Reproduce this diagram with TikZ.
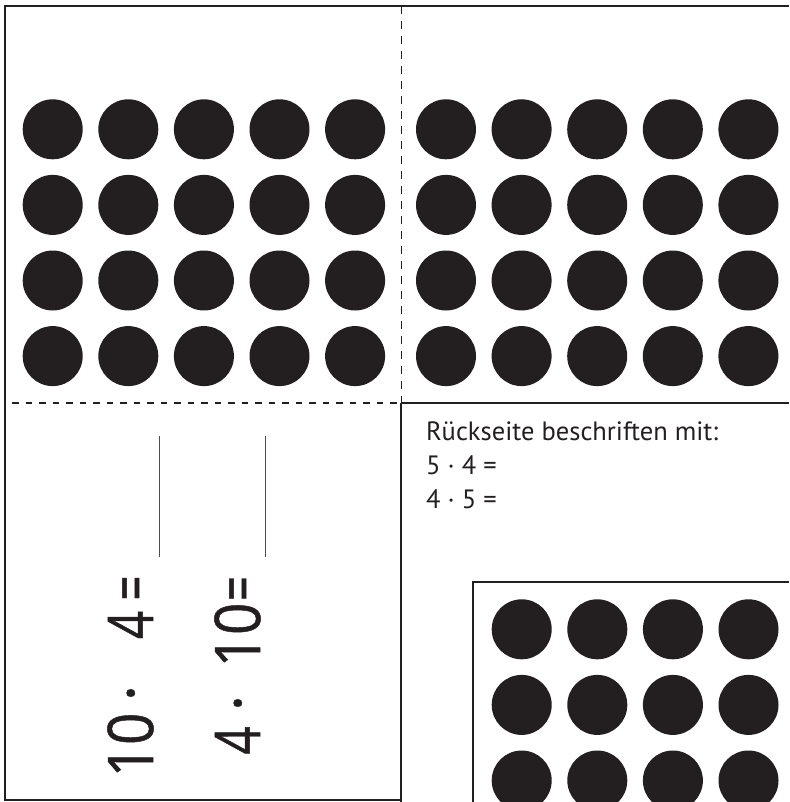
\documentclass[tikz,border=0pt]{standalone}
\usepackage{fontspec}
\setmainfont{PT Sans}
\newfontfamily\rotf[FakeBold=0.8]{Open Sans}
\definecolor{ink}{HTML}{231F20}
\begin{document}
\begin{tikzpicture}[x=1pt,y=-1pt,
  frame/.style={draw=ink,line width=2pt},
  cutline/.style={draw=ink,line width=1.8pt,dash pattern=on 6.5pt off 7pt},
  foldline/.style={draw=ink,line width=1pt,dash pattern=on 8pt off 7pt},
  writeline/.style={draw=ink!80,line width=0.9pt},
  dot/.style={fill=ink},
  note/.style={anchor=base west,inner sep=0pt,font=\fontsize{26.5}{32}\selectfont,text=ink},
  rot/.style={anchor=base,inner sep=0pt,rotate=90,font=\rotf\fontsize{63}{70}\selectfont,text=ink}]
\useasboundingbox (0,0) rectangle (789,802);
% frames
\draw[frame] (5,801) -- (5,6) -- (789,6);
\draw[frame] (5,800) -- (401,800);
\draw[frame] (401,403) -- (401,802);
\draw[frame] (401,403) -- (789,403);
\draw[cutline] (12,403) -- (401,403);
\draw[foldline] (401,6) -- (401,403);
\draw[frame] (473,802) -- (473,582) -- (789,582);
% dot grids
\foreach \i in {0,...,4} \foreach \j in {0,...,3} {
  \fill[dot] (52.7+75.6*\i,129.3+75.6*\j) circle (30);
  \fill[dot] (446+75.6*\i,129.3+75.6*\j) circle (30);
}
\foreach \i in {0,...,3} \foreach \j in {0,...,2} {
  \fill[dot] (521.7+75.6*\i,629.3+75.6*\j) circle (30);
}
% note text
\node[note] (t1) at (426,440) {Rückseite beschriften mit:};
\node[note] (t2) at (426,474) {5 · 4 =};
\node[note] (t3) at (426,508) {4 · 5 =};
% writing lines
\coordinate (l1a) at (159,436); \coordinate (l1b) at (159,557);
\coordinate (l2a) at (265.7,436); \coordinate (l2b) at (265.7,557);
\draw[writeline] (l1a) -- (l1b);
\draw[writeline] (l2a) -- (l2b);
% rotated tasks
\node[rot] (a1) at (153,745) {\scalebox{0.9}[1]{10}};
\node[rot] (a2) at (153,693) {·};
\node[rot] (a3) at (153,625) {\scalebox{0.78}[1]{4}};
\node[rot] (a4) at (153,588) {\scalebox{0.7}[1]{=}};
\node[rot] (b1) at (260,740.5) {\scalebox{0.78}[1]{4}};
\node[rot] (b2) at (260,703) {·};
\node[rot] (b3) at (260,635) {\scalebox{0.9}[1]{10}};
\node[rot] (b4) at (260,588.5) {\scalebox{0.7}[1]{=}};
\end{tikzpicture}
\end{document}
